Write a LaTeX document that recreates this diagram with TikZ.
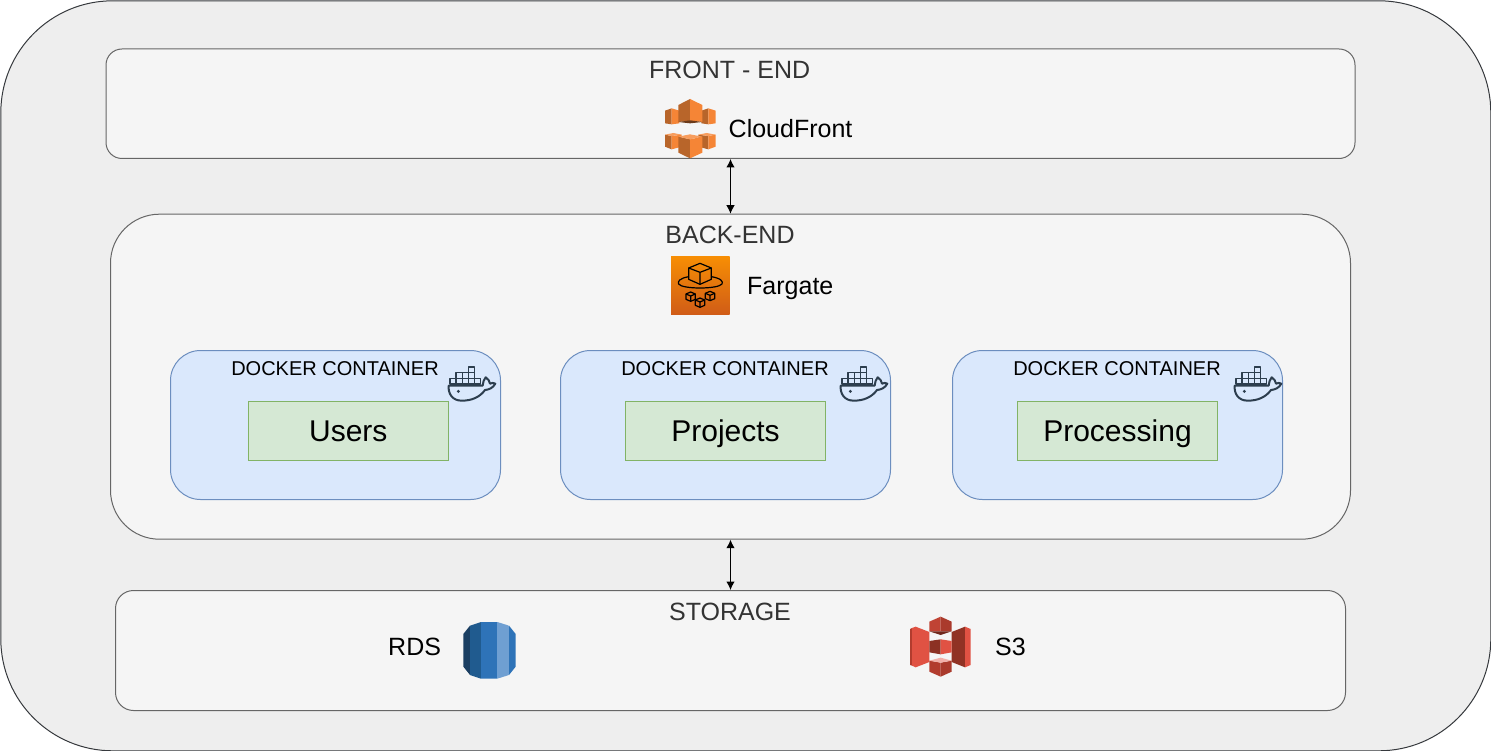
\documentclass[tikz,border=0pt]{standalone}
\usepackage{fontspec}
\setmainfont{Liberation Sans}
\usepackage{tikz}
\usetikzlibrary{arrows.meta,positioning}
\definecolor{outerfill}{HTML}{EEEEEE}
\definecolor{outerline}{HTML}{36393D}
\definecolor{panelfill}{HTML}{F5F5F5}
\definecolor{panelline}{HTML}{666666}
\definecolor{titletext}{HTML}{333333}
\definecolor{bluefill}{HTML}{DAE8FC}
\definecolor{blueline}{HTML}{6C8EBF}
\definecolor{greenfill}{HTML}{D5E8D4}
\definecolor{greenline}{HTML}{82B366}
\definecolor{whale}{HTML}{2D3E4E}
\definecolor{cfl}{HTML}{F58536}
\definecolor{cfd}{HTML}{B8652A}
\definecolor{cfs}{HTML}{6B3A1A}
\definecolor{s3l}{HTML}{E05243}
\definecolor{s3d}{HTML}{8C3123}
\definecolor{s3m}{HTML}{B23C2E}
\definecolor{s3p}{HTML}{F2B0A9}
\definecolor{fgtop}{HTML}{F78E04}
\definecolor{fgbot}{HTML}{D05C17}
\definecolor{rdsa}{HTML}{1B3F62}
\definecolor{rdsb}{HTML}{205B8F}
\definecolor{rdsc}{HTML}{2E73B8}
\definecolor{rdsd}{HTML}{6F9FD2}
\tikzset{
  x=1pt,y=-1pt,
  panel/.style={draw=panelline,fill=panelfill,line width=1pt,inner sep=0pt,anchor=north west},
  dockerbox/.style={draw=blueline,fill=bluefill,line width=1pt,rounded corners=30pt,minimum width=330pt,minimum height=149pt,inner sep=0pt,anchor=north west},
  servicebox/.style={draw=greenline,fill=greenfill,line width=1pt,minimum width=200pt,minimum height=59pt,inner sep=0pt,font=\fontsize{30}{34}\selectfont,text height=21.5pt,text depth=0pt,anchor=north west},
  paneltitle/.style={text=titletext,font=\fontsize{25}{29}\selectfont,inner sep=0pt},
  iconlabel/.style={text=black,font=\fontsize{25}{29}\selectfont,inner sep=0pt},
  dockerlabel/.style={text=black,font=\fontsize{20}{24}\selectfont,inner sep=0pt},
  link/.style={draw=black,line width=1pt,{Latex[length=8.5pt,width=8.5pt]}-{Latex[length=8.5pt,width=8.5pt]}},
  zoomed/.style={x=0.33333pt,y=-0.33333pt},
  whalemark/.pic={
    \begin{scope}[zoomed,draw=whale,line width=1.5pt,line join=round]
      \foreach \xa/\ya in {30/70,48.4/70,66.8/70,85.2/70,103.6/70,48.4/53,66.8/53,85.2/53,85.2/36}
        \draw (\xa,\ya) rectangle ++(18.4,17);
      \draw[line width=2pt,line cap=round] (26,92) -- (128,92)
        .. controls (129,82) and (131,74) .. (137,67)
        .. controls (145,72) and (149,79) .. (150,86)
        .. controls (156,83) and (161,83) .. (166,86)
        .. controls (159,99) and (147,104) .. (135,105)
        .. controls (119,127) and (95,137) .. (65,137)
        .. controls (37,137) and (24,116) .. (26,92) -- cycle;
      \fill[whale] (55,109) circle (5);
    \end{scope}
  }
}
\begin{document}
\begin{tikzpicture}
\useasboundingbox (0,0) rectangle (1491,751);
% panels
\node[draw=outerline,fill=outerfill,line width=1pt,rounded corners=112pt,minimum width=1490pt,minimum height=750pt,inner sep=0pt,anchor=north west] (outer) at (0.3,0.3) {};
\node[panel,rounded corners=16pt,minimum width=1249pt,minimum height=109.5pt] (front) at (105.5,48.5) {};
\node[panel,rounded corners=49pt,minimum width=1240pt,minimum height=325pt] (back) at (110,213.7) {};
\node[panel,rounded corners=18pt,minimum width=1230pt,minimum height=120pt] (storage) at (115,590) {};
% titles
\node[paneltitle] (fronttitle) at (729.7,70) {FRONT - END};
\node[paneltitle] (backtitle) at (730,235) {BACK-END};
\node[paneltitle] (storagetitle) at (730,612) {STORAGE};
% icon labels
\node[iconlabel,anchor=west] (cloudfront) at (728.5,129) {CloudFront};
\node[iconlabel,anchor=west] (fargate) at (747,288) {Fargate};
\node[iconlabel,anchor=west] (rds) at (388,647) {RDS};
\node[iconlabel,anchor=west] (s3) at (995,647) {S3};
% containers
\node[dockerbox] (dock1) at (170,350) {};
\node[dockerbox] (dock2) at (560,350) {};
\node[dockerbox] (dock3) at (952,350) {};
\node[dockerlabel] (docklabel1) at (335,368.7) {DOCKER CONTAINER};
\node[dockerlabel] (docklabel2) at (725,368.7) {DOCKER CONTAINER};
\node[dockerlabel] (docklabel3) at (1117,368.7) {DOCKER CONTAINER};
\node[servicebox] (users) at (247.8,400.8) {Users};
\node[servicebox] (projects) at (625,400.8) {Projects};
\node[servicebox] (processing) at (1017,400.8) {Processing};
% docker whales
\pic at (440,355) {whalemark};
\pic at (832,355) {whalemark};
\pic at (1226,355) {whalemark};
% connectors
\draw[link] (front.south) -- (back.north);
\draw[link] (back.south) -- (storage.north);
% CloudFront icon
\begin{scope}[shift={(640,90)},zoomed]
  % top row sides
  \fill[cfd] (75,62) -- (95,55) -- (95,103) -- (75,100) -- cycle;
  \fill[cfl] (95,55) -- (118,62) -- (118,100) -- (95,103) -- cycle;
  \fill[cfd] (184,62) -- (205,55) -- (205,103) -- (184,100) -- cycle;
  \fill[cfl] (205,55) -- (227,62) -- (227,100) -- (205,103) -- cycle;
  % top centre
  \fill[cfd] (115,45) -- (150,27) -- (150,92) -- (115,96) -- cycle;
  \fill[cfl] (150,27) -- (187,45) -- (187,96) -- (150,92) -- cycle;
  \fill[cfs] (115,96) -- (150,91) -- (187,96) -- (150,100) -- cycle;
  % bottom row sides
  \fill[cfd] (75,134) -- (95,138) -- (95,178) -- (75,170) -- cycle;
  \fill[cfl] (95,138) -- (125,134) -- (125,170) -- (95,178) -- cycle;
  \fill[cfl!80!white] (75,134) -- (100,129) -- (125,134) -- (95,138) -- cycle;
  \fill[cfd] (175,134) -- (205,138) -- (205,178) -- (175,170) -- cycle;
  \fill[cfl] (205,138) -- (227,134) -- (227,170) -- (205,178) -- cycle;
  \fill[cfl!80!white] (175,134) -- (200,129) -- (227,134) -- (205,138) -- cycle;
  % bottom centre
  \fill[cfd] (115,140) -- (150,148) -- (150,205) -- (115,188) -- cycle;
  \fill[cfl] (150,148) -- (187,140) -- (187,188) -- (150,205) -- cycle;
  \fill[cfl!80!white] (115,140) -- (150,133) -- (187,140) -- (150,148) -- cycle;
\end{scope}
% Fargate icon
\shade[top color=fgtop,bottom color=fgbot] (671,256.3) rectangle (729.5,314.5);
\begin{scope}[shift={(660,250)},zoomed,draw=black,line width=1.2pt,line join=round]
  \draw (86,54) -- (120,40) -- (154,54) -- (154,88) -- (120,103) -- (86,88) -- cycle;
  \draw (86,54) -- (120,67) -- (154,54) (120,67) -- (120,103);
  \draw (86,80) .. controls (58,85) and (52,95) .. (56,102) .. controls (66,118) and (174,118) .. (186,102) .. controls (190,95) and (184,85) .. (154,80);
  \foreach \cx/\cy in {92/140,120/158,150/138}{
    \begin{scope}[shift={(\cx,\cy)}]
      \draw (-14,-8) -- (0,-14) -- (14,-8) -- (14,8) -- (0,14) -- (-14,8) -- cycle;
      \draw (-14,-8) -- (0,-2) -- (14,-8) (0,-2) -- (0,14);
    \end{scope}
  }
\end{scope}
% RDS icon
\begin{scope}[shift={(450,610)},zoomed]
  \clip (40,72) -- (60,47) -- (93,36) -- (142,36) -- (177,47) -- (197,72) -- (197,170) -- (177,195) -- (142,206) -- (93,206) -- (60,195) -- (40,170) -- cycle;
  \fill[rdsa] (40,30) rectangle (60,210);
  \fill[rdsb] (60,30) rectangle (93,210);
  \fill[rdsc] (93,30) rectangle (142,210);
  \fill[rdsd] (142,30) rectangle (177,210);
  \fill[rdsc] (177,30) rectangle (197,210);
\end{scope}
% S3 icon
\begin{scope}[shift={(900,610)},zoomed]
  % wings
  \fill[s3m] (30,57) -- (36,54) -- (36,167) -- (30,165) -- cycle;
  \fill[s3l] (36,54) -- (47,50) -- (88,66) -- (88,156) -- (47,172) -- (36,167) -- cycle;
  \fill[s3d!90!s3m] (155,66) -- (195,50) -- (195,172) -- (155,156) -- cycle;
  \fill[s3l] (195,50) -- (212,57) -- (212,165) -- (195,172) -- cycle;
  % top cube
  \fill[s3m!70!s3l] (88,35) -- (122,20) -- (122,64) -- (88,64) -- cycle;
  \fill[s3m!80!s3d] (122,20) -- (155,35) -- (155,64) -- (122,64) -- cycle;
  \fill[s3d!80!black] (88,64) -- (155,64) -- (122,75) -- cycle;
  % middle cube
  \fill[s3d] (88,93) -- (122,88) -- (122,133) -- (88,127) -- cycle;
  \fill[s3l] (122,88) -- (155,93) -- (155,127) -- (122,133) -- cycle;
  % bottom cube
  \fill[s3m] (88,152) -- (122,158) -- (122,200) -- (88,185) -- cycle;
  \fill[s3m!80!s3d] (122,158) -- (155,152) -- (155,185) -- (122,200) -- cycle;
  \fill[s3p] (88,152) -- (122,143) -- (155,152) -- (122,158) -- cycle;
\end{scope}
\end{tikzpicture}
\end{document}
